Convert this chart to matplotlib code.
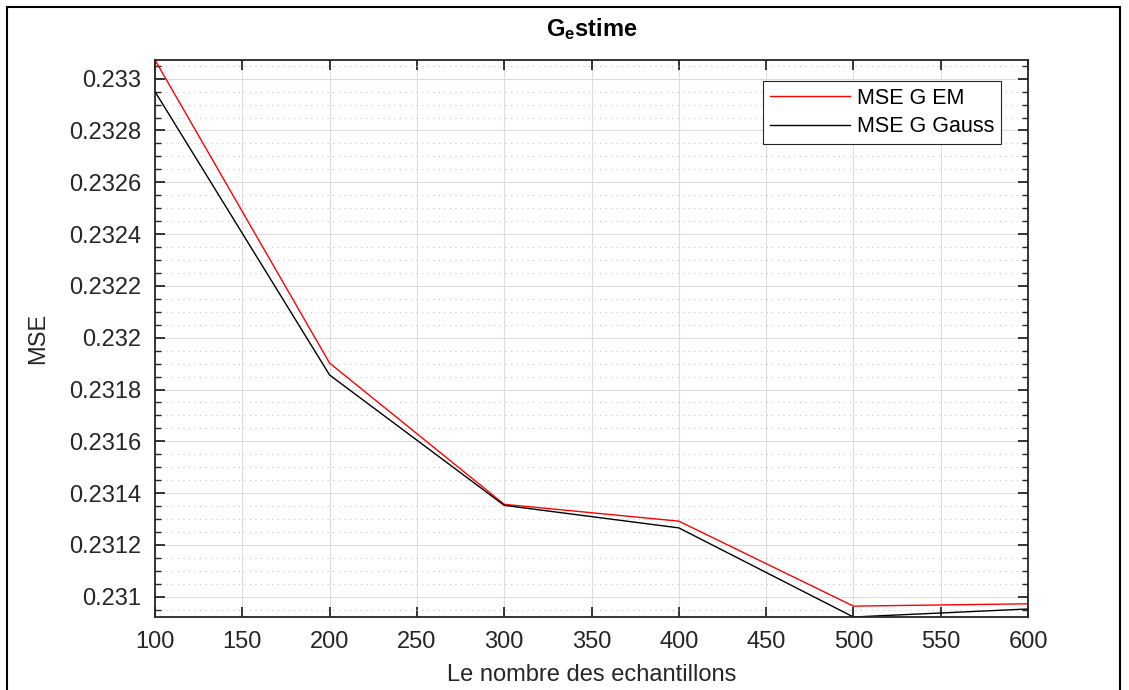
import matplotlib
matplotlib.use("Agg")

import matplotlib.pyplot as plt
from matplotlib.patches import Rectangle
from matplotlib.ticker import MultipleLocator


N_SAMPLES = [100, 200, 300, 400, 500, 600]
MSE_EM = [0.233072, 0.231902, 0.231357, 0.231292, 0.230964, 0.230973]
MSE_GAUSS = [0.232950, 0.231856, 0.231353, 0.231266, 0.230922, 0.230953]
Y_TICKS = [0.2310, 0.2312, 0.2314, 0.2316, 0.2318, 0.2320,
           0.2322, 0.2324, 0.2326, 0.2328, 0.2330]
Y_LABELS = ['0.231', '0.2312', '0.2314', '0.2316', '0.2318', '0.232',
            '0.2322', '0.2324', '0.2326', '0.2328', '0.233']

plt.rcParams['font.family'] = ['Liberation Sans', 'DejaVu Sans']
plt.rcParams['mathtext.fontset'] = 'custom'
plt.rcParams['mathtext.rm'] = 'Liberation Sans'
plt.rcParams['mathtext.bf'] = 'Liberation Sans:bold'
TXT = '#262626'
FS = 17

fig = plt.figure(figsize=(11.29, 6.90), dpi=100)
ax = fig.add_axes([155 / 1129, 1 - 617 / 690, (1028 - 155) / 1129, (617 - 60) / 690])

ax.plot(N_SAMPLES, MSE_EM, color='red', linewidth=1.0, label='MSE G EM')
ax.plot(N_SAMPLES, MSE_GAUSS, color='black', linewidth=1.0, label='MSE G Gauss')

ax.set_xlim(min(N_SAMPLES), max(N_SAMPLES))
ax.set_ylim(min(MSE_EM + MSE_GAUSS), max(MSE_EM + MSE_GAUSS))

ax.xaxis.set_major_locator(MultipleLocator(50))
ax.set_yticks(Y_TICKS)
ax.set_yticklabels(Y_LABELS)
ax.yaxis.set_minor_locator(MultipleLocator(0.00005))

ax.tick_params(axis='both', which='major', direction='in', length=7, width=1.3,
               top=True, right=True, labelsize=FS, labelcolor=TXT, color=TXT)
ax.tick_params(axis='x', which='major', pad=10)
ax.tick_params(axis='y', which='major', pad=10)
ax.tick_params(axis='y', which='minor', direction='in', length=4, width=1.0,
               right=True, color=TXT)

ax.grid(True, which='major', color='#dcdcdc', linewidth=0.8)
ax.grid(True, which='minor', axis='y', color='#c8c8c8', linestyle=(0, (1, 4)), linewidth=0.8)
ax.set_axisbelow(True)

for s in ax.spines.values():
    s.set_color(TXT)
    s.set_linewidth(1.3)

ax.set_xlabel('Le nombre des echantillons', fontsize=FS, color=TXT, labelpad=8)
ax.set_ylabel('MSE', fontsize=FS, color=TXT, labelpad=14)
ax.set_title(r'$\mathbf{G_e}$stime', fontsize=FS, fontweight='bold', color='black', pad=17)

leg = ax.legend(loc='upper right', bbox_to_anchor=(0.969, 0.9615), fontsize=15.5,
                frameon=True, fancybox=False, handlelength=3.7, borderpad=0.3,
                labelspacing=0.35, handletextpad=0.35, borderaxespad=0)
leg.get_frame().set_edgecolor('#262626')
leg.get_frame().set_linewidth(0.8)
leg.get_frame().set_alpha(1)

fig.patches.append(Rectangle((7 / 1129, -0.01), (1120 - 7) / 1129, 1 - 7 / 690 + 0.01,
                             transform=fig.transFigure, fill=False,
                             edgecolor='black', linewidth=1.5))

fig.savefig('out.png', dpi=100)
